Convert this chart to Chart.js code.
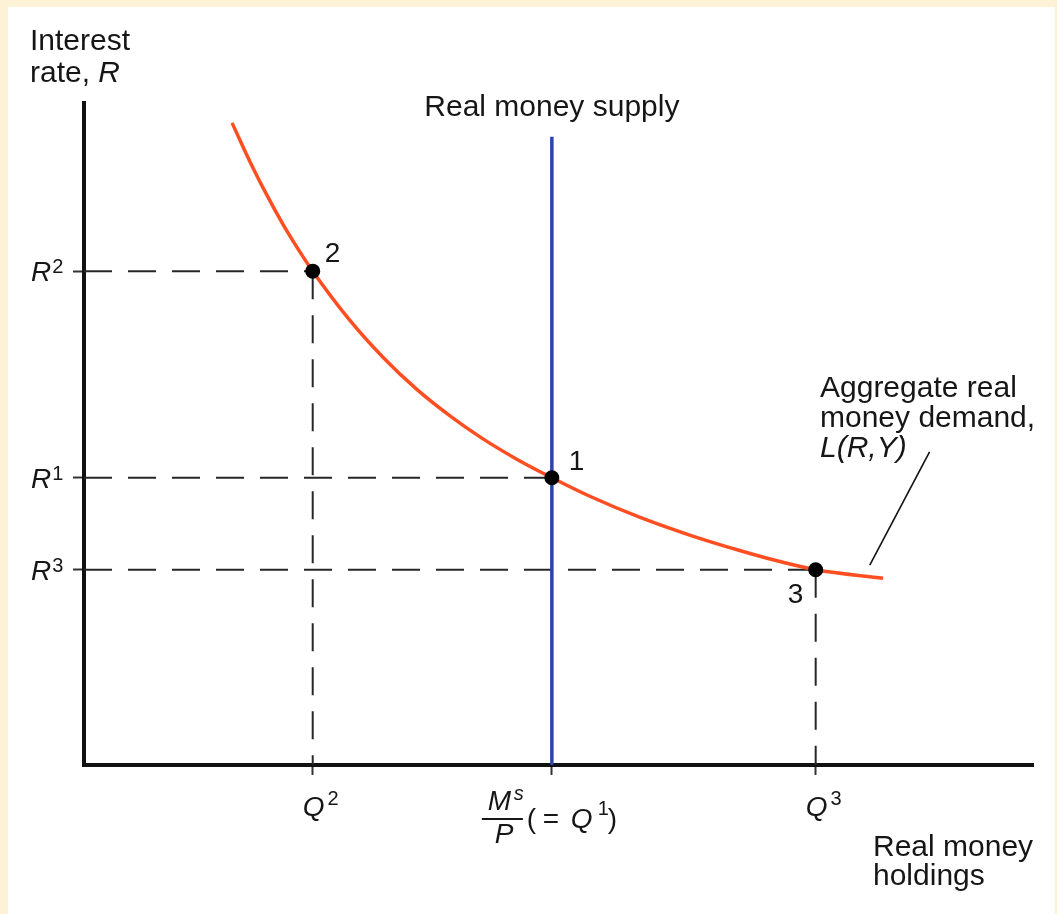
<!DOCTYPE html>
<html lang="en">
<head>
<meta charset="UTF-8">
<title>Real money supply and aggregate real money demand</title>
<script src="https://cdn.jsdelivr.net/npm/chart.js"></script>
<style>
  html, body { margin: 0; padding: 0; }
  body { width: 1057px; height: 914px; background: #fdf1d6; position: relative; overflow: hidden; }
  #paper { position: absolute; left: 8px; top: 7px; width: 1047px; height: 907px; background: #fff; }
  #chart { position: absolute; left: 0; top: 0; }
</style>
</head>
<body>
<div id="paper"></div>
<canvas id="chart" width="1057" height="914"></canvas>
<script>
// aggregate real money demand L(R,Y)
const demandQ = [15.6, 17.5, 19.3, 21.0, 22.8, 24.1, 28.0, 31.5, 35.1, 38.6, 42.0, 45.6, 49.3, 53.3, 58.6, 63.9, 69.1, 72.6, 77.1, 84.2];
const demandR = [97.0, 91.1, 86.0, 81.6, 77.4, 74.6, 67.2, 61.6, 56.7, 52.7, 49.3, 46.2, 43.4, 40.6, 37.4, 34.7, 32.4, 31.0, 29.5, 28.2];

// equilibrium points 2, 1, 3
const pointQ = [24.1, 49.3, 77.1];
const pointR = [74.6, 43.4, 29.5];
const pointNames = ['2', '1', '3'];
const rTickSup = ['2', '1', '3'];

// vertical real money supply Ms/P
const supplyQ = [49.3, 49.3];
const supplyR = [0, 94.9];

// leader line to the demand curve label
const leaderQ = [82.8, 89.1];
const leaderR = [30.2, 47.3];

const FONT = '"Liberation Sans", Arial, Helvetica, sans-serif';
const INK = '#161616';

function xy(xs, ys) {
    return xs.map((x, i) => ({x: x, y: ys[i]}));
}

const guides = [];
pointQ.forEach((q, i) => {
    // horizontal dashes start at the axis, vertical ones start at the point
    guides.push([{x: 0, y: pointR[i]}, {x: q, y: pointR[i]}]);
    if (i !== 1) guides.push([{x: q, y: pointR[i]}, {x: q, y: 0}]);
});

const guideSets = guides.map(g => ({
    data: g,
    showLine: true,
    borderColor: '#262626',
    borderWidth: 2,
    borderDash: [28, 16],
    pointRadius: 0
}));

const labelsPlugin = {
    id: 'labels',
    afterDraw(chart) {
        const ctx = chart.ctx;
        const xs = chart.scales.x, ys = chart.scales.y;
        const area = chart.chartArea;
        ctx.save();
        ctx.fillStyle = INK;
        ctx.textBaseline = 'alphabetic';

        function put(s, x, y, font, align) {
            ctx.font = font;
            ctx.textAlign = align || 'left';
            ctx.fillText(s, x, y);
            return x + ctx.measureText(s).width;
        }

        // axis titles
        put('Interest', 30, 50, '30px ' + FONT);
        let e = put('rate, ', 30, 82, '30px ' + FONT);
        put('R', e, 82, 'italic 30px ' + FONT);
        put('Real money', 873, 856, '30px ' + FONT);
        put('holdings', 873, 885, '30px ' + FONT);

        // R tick labels
        pointR.forEach((r, i) => {
            const py = ys.getPixelForValue(r);
            const end = put('R', area.left - 53, py + 10, 'italic 28px ' + FONT);
            put(rTickSup[i], end + 1, py + 2, '20px ' + FONT);
        });

        // Q2 and Q3 tick labels
        [0, 2].forEach(i => {
            const px = xs.getPixelForValue(pointQ[i]);
            const end = put('Q', px - 10, area.bottom + 51, 'italic 28px ' + FONT);
            put(pointNames[i], end + 3, area.bottom + 40, '20px ' + FONT);
        });

        // Ms/P (= Q1)
        const mx = xs.getPixelForValue(supplyQ[0]);
        const b = area.bottom;
        put('M', mx - 64, b + 45, 'italic 28px ' + FONT);
        put('s', mx - 38, b + 35, 'italic 20px ' + FONT);
        ctx.fillRect(mx - 70, b + 53, 41, 2);
        put('P', mx - 57, b + 78, 'italic 28px ' + FONT);
        put('(', mx - 25, b + 63, '28px ' + FONT);
        put('=', mx - 9, b + 63, '28px ' + FONT);
        put('Q', mx + 19, b + 63, 'italic 28px ' + FONT);
        put('1', mx + 46, b + 50, '20px ' + FONT);
        put(')', mx + 56, b + 63, '28px ' + FONT);

        // supply title, centred over the vertical line
        put('Real money supply', mx, 116, '30px ' + FONT, 'center');

        // point numbers
        const offs = [[12, -9], [17, -8], [-28, 33]];
        pointQ.forEach((q, i) => {
            put(pointNames[i], xs.getPixelForValue(q) + offs[i][0], ys.getPixelForValue(pointR[i]) + offs[i][1], '28px ' + FONT);
        });

        // demand curve label
        put('Aggregate real', 820, 397, '30px ' + FONT);
        put('money demand,', 820, 427, '30px ' + FONT);
        put('L(R,Y)', 820, 457, 'italic 30px ' + FONT);

        ctx.restore();
    }
};

new Chart(document.getElementById('chart'), {
    type: 'scatter',
    data: {
        datasets: [
            {
                label: 'points',
                data: xy(pointQ, pointR),
                pointRadius: 7.5,
                pointBackgroundColor: '#000',
                pointBorderWidth: 0
            },
            {
                label: 'L(R,Y)',
                data: xy(demandQ, demandR),
                showLine: true,
                borderColor: '#ff4f22',
                borderWidth: 3.5,
                pointRadius: 0,
                cubicInterpolationMode: 'monotone'
            },
            {
                label: 'Ms/P',
                data: xy(supplyQ, supplyR),
                showLine: true,
                borderColor: '#2b45a5',
                borderWidth: 3.5,
                pointRadius: 0
            },
            {
                label: 'leader',
                data: xy(leaderQ, leaderR),
                showLine: true,
                borderColor: '#111',
                borderWidth: 1.6,
                pointRadius: 0
            }
        ].concat(guideSets)
    },
    options: {
        responsive: false,
        animation: false,
        events: [],
        layout: {padding: {left: 73, right: 24, top: 103, bottom: 139}},
        plugins: {
            legend: {display: false},
            tooltip: {enabled: false}
        },
        scales: {
            x: {
                type: 'linear', min: 0, max: 100,
                afterBuildTicks: s => { s.ticks = pointQ.map(v => ({value: v})); },
                ticks: {display: false},
                grid: {drawOnChartArea: false, drawTicks: true, tickLength: 10, tickWidth: 2, tickColor: '#333'},
                border: {display: true, color: '#111', width: 4}
            },
            y: {
                type: 'linear', min: 0, max: 100,
                afterBuildTicks: s => { s.ticks = pointR.map(v => ({value: v})); },
                ticks: {display: false},
                grid: {drawOnChartArea: false, drawTicks: true, tickLength: 11, tickWidth: 2, tickColor: '#333'},
                border: {display: true, color: '#111', width: 4}
            }
        }
    },
    plugins: [labelsPlugin]
});
</script>
</body>
</html>
